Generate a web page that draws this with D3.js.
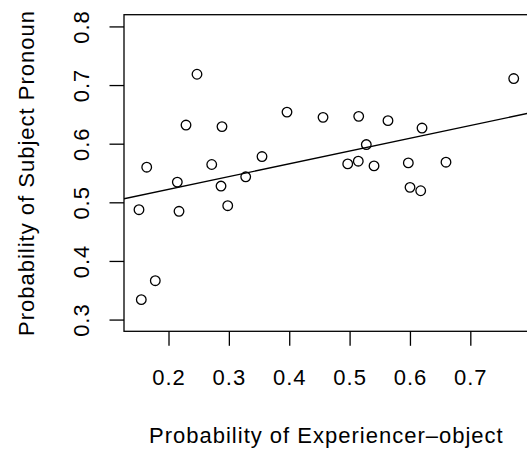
<!DOCTYPE html>
<html>
<head>
<meta charset="utf-8">
<script src="https://cdn.jsdelivr.net/npm/d3@7"></script>
<style>
  body { margin: 0; background: #fff; }
  svg { display: block; }
  text { font-family: "Liberation Sans", Arial, Helvetica, sans-serif; fill: #000; }
</style>
</head>
<body>
<svg id="chart" width="527" height="451"></svg>
<script>
// probability of experiencer-object construction, per verb
var expObject = [0.2472, 0.2290, 0.2886, 0.3963, 0.1639, 0.2716, 0.3549, 0.4560,
    0.5151, 0.5636, 0.6200, 0.7719, 0.5277, 0.4969, 0.5144, 0.5405, 0.5973,
    0.6597, 0.2146, 0.2870, 0.3279, 0.1511, 0.2174, 0.2981, 0.1781, 0.1549,
    0.6001, 0.6178];
// probability of subject pronoun, same order
var subjPronoun = [0.7184, 0.6318, 0.6291, 0.6539, 0.5599, 0.5645, 0.5781, 0.6449,
    0.6466, 0.6393, 0.6267, 0.7111, 0.5985, 0.5655, 0.5701, 0.5621, 0.5672,
    0.5684, 0.5345, 0.5277, 0.5435, 0.4874, 0.4847, 0.4942, 0.3663, 0.3340,
    0.5255, 0.5197];
var xTicks = [0.2, 0.3, 0.4, 0.5, 0.6, 0.7];
var yTicks = [0.3, 0.4, 0.5, 0.6, 0.7, 0.8];
var yLimits = [0.3, 0.8];

var svg = d3.select('#chart');
var plotLeft = 124, plotRight = 528.7, plotTop = 14.7, plotBottom = 331.3;
var tickLen = 14.5;
var fontSize = '22px';
var spacing = '1px';

// R style 4% padding
function pad(ext) {
    var d = (ext[1] - ext[0]) * 0.04;
    return [ext[0] - d, ext[1] + d];
}

var x = d3.scaleLinear().domain(pad(d3.extent(expObject))).range([plotLeft, plotRight]);
var y = d3.scaleLinear().domain(pad(yLimits)).range([plotBottom, plotTop]);

var fmt = d3.format('.1f');

var xAxis = svg.append('g')
    .attr('transform', 'translate(0,' + plotBottom + ')')
    .call(d3.axisBottom(x).tickValues(xTicks).tickSize(tickLen).tickFormat(fmt));
xAxis.select('.domain').remove();
xAxis.selectAll('line').attr('stroke', '#000').attr('stroke-width', 1.3);
xAxis.selectAll('text')
    .attr('y', 53.7)
    .attr('dy', null)
    .attr('font-family', null)
    .style('font-size', fontSize)
    .style('letter-spacing', spacing);

var yAxis = svg.append('g')
    .attr('transform', 'translate(' + plotLeft + ',0)')
    .call(d3.axisLeft(y).tickValues(yTicks).tickSize(tickLen).tickFormat(fmt));
yAxis.select('.domain').remove();
yAxis.selectAll('line').attr('stroke', '#000').attr('stroke-width', 1.3);
yAxis.selectAll('text')
    .attr('transform', 'rotate(-90)')
    .attr('x', 0)
    .attr('y', -35)
    .attr('dy', null)
    .attr('text-anchor', 'middle')
    .style('font-size', fontSize)
    .style('letter-spacing', spacing);

xAxis.attr('font-family', null).attr('font-size', null);
yAxis.attr('font-family', null).attr('font-size', null);

// plot frame
svg.append('rect')
    .attr('x', plotLeft)
    .attr('y', plotTop)
    .attr('width', plotRight - plotLeft)
    .attr('height', plotBottom - plotTop)
    .attr('fill', 'none')
    .attr('stroke', '#000')
    .attr('stroke-width', 1.3);

// least squares line, clipped to the plot region
var mx = d3.mean(expObject), my = d3.mean(subjPronoun);
var sxy = 0, sxx = 0;
expObject.forEach(function (v, i) {
    sxy += (v - mx) * (subjPronoun[i] - my);
    sxx += (v - mx) * (v - mx);
});
var slope = sxy / sxx;
var intercept = my - slope * mx;
var xd = x.domain();

svg.append('clipPath').attr('id', 'plotClip')
    .append('rect')
    .attr('x', plotLeft).attr('y', plotTop)
    .attr('width', plotRight - plotLeft).attr('height', plotBottom - plotTop);

svg.append('line')
    .attr('clip-path', 'url(#plotClip)')
    .attr('x1', x(xd[0]))
    .attr('y1', y(intercept + slope * xd[0]))
    .attr('x2', x(xd[1]))
    .attr('y2', y(intercept + slope * xd[1]))
    .attr('stroke', '#000')
    .attr('stroke-width', 1.3);

svg.append('g')
    .selectAll('circle')
    .data(expObject)
    .enter()
    .append('circle')
    .attr('cx', function (d) { return x(d); })
    .attr('cy', function (d, i) { return y(subjPronoun[i]); })
    .attr('r', 4.8)
    .attr('fill', 'none')
    .attr('stroke', '#000')
    .attr('stroke-width', 1.3);

svg.append('text')
    .attr('x', (plotLeft + plotRight) / 2)
    .attr('y', 443)
    .attr('text-anchor', 'middle')
    .style('font-size', fontSize)
    .style('letter-spacing', spacing)
    .text('Probability of Experiencer\u2013object');

svg.append('text')
    .attr('transform', 'translate(34.3,' + (plotTop + plotBottom) / 2 + ') rotate(-90)')
    .attr('text-anchor', 'middle')
    .style('font-size', fontSize)
    .style('letter-spacing', spacing)
    .text('Probability of Subject Pronoun');
</script>
</body>
</html>
